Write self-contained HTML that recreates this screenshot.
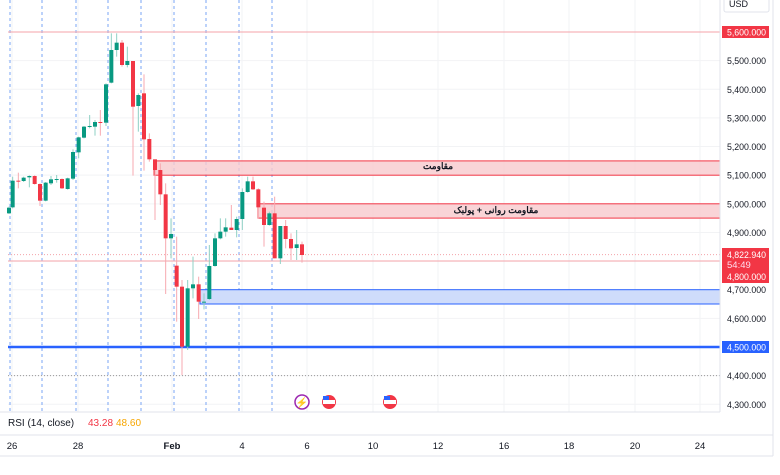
<!DOCTYPE html>
<html><head><meta charset="utf-8"><style>
body{margin:0;background:#fff;width:780px;height:470px;overflow:hidden;font-family:"Liberation Sans",sans-serif}
svg text{font-family:"Liberation Sans","Noto Sans CJK SC",sans-serif}
</style></head><body>
<svg id="s" width="780" height="470" xmlns="http://www.w3.org/2000/svg">
<rect width="780" height="470" fill="#fff"/>
<g id="grid"></g>
<rect x="154" y="160.9" width="566" height="14.3" fill="#f7c9cd" fill-opacity="0.8" stroke="#f23645" stroke-width="1"/>
<rect x="258" y="203.8" width="462" height="14.3" fill="#f7c9cd" fill-opacity="0.8" stroke="#f23645" stroke-width="1"/>
<rect x="200" y="289.7" width="520" height="14.3" fill="#cfdcfb" stroke="#2962ff" stroke-width="1"/>
<text x="438" y="169" font-size="9" font-weight="bold" fill="#131722" text-anchor="middle">مقاومت</text>
<text x="496" y="213" font-size="9" font-weight="bold" fill="#131722" text-anchor="middle">مقاومت روانی + پولبک</text>
<line x1="8" y1="32" x2="720" y2="32" stroke="#f4a3a9" stroke-width="1"/>
<line x1="8" y1="261" x2="720" y2="261" stroke="#f4a3a9" stroke-width="1"/>
<line x1="8" y1="254.6" x2="720" y2="254.6" stroke="#f4a3a9" stroke-width="1" stroke-dasharray="1,2"/>
<line x1="8" y1="375.6" x2="720" y2="375.6" stroke="#999" stroke-width="1" stroke-dasharray="1,2"/>
<line x1="8" y1="347" x2="720" y2="347" stroke="#2962ff" stroke-width="2.5"/>
<g id="c"></g>
<circle cx="302" cy="402" r="7" fill="#fff" stroke="#9c27b0" stroke-width="1.5"/>
<text x="302" y="406" font-size="10" fill="#9c27b0" text-anchor="middle">⚡</text>
<circle cx="329" cy="402" r="7" fill="#f23645"/><rect x="323" y="400" width="12" height="4" fill="#fff"/><rect x="323" y="396" width="6" height="4" fill="#2962ff"/>
<circle cx="390" cy="402" r="7" fill="#f23645"/><rect x="384" y="400" width="12" height="4" fill="#fff"/><rect x="384" y="396" width="6" height="4" fill="#2962ff"/>
<line x1="0" y1="412" x2="720" y2="412" stroke="#e0e3eb"/>
<line x1="0" y1="435" x2="773" y2="435" stroke="#e0e3eb"/>
<line x1="720" y1="0" x2="720" y2="412" stroke="#e0e3eb"/>
<line x1="773" y1="0" x2="773" y2="456" stroke="#e0e3eb"/>
<line x1="0" y1="456" x2="773" y2="456" stroke="#e0e3eb"/>
<text x="8" y="426" font-size="10" fill="#131722">RSI (14, close)</text>
<text x="88" y="426" font-size="10" fill="#f23645">43.28</text>
<text x="116" y="426" font-size="10" fill="#f7a600">48.60</text>
<g id="axis" font-size="9.5" fill="#131722"></g>
<rect x="724" y="-2" width="45" height="14" rx="2" fill="#fff" stroke="#e0e3eb"/>
<text x="729" y="7" font-size="9" fill="#131722">USD</text>
<rect x="722" y="26" width="47" height="12" fill="#f23645"/>
<text x="727" y="35.5" font-size="9.5" fill="#fff" textLength="39" lengthAdjust="spacingAndGlyphs">5,600.000</text>
<rect x="722" y="248" width="47" height="35" fill="#f23645"/>
<text x="727" y="258" font-size="9.5" fill="#fff" textLength="39" lengthAdjust="spacingAndGlyphs">4,822.940</text>
<text x="727" y="268" font-size="9.5" fill="#fde">54:49</text>
<text x="727" y="280" font-size="9.5" fill="#fff" textLength="39" lengthAdjust="spacingAndGlyphs">4,800.000</text>
<rect x="722" y="341" width="47" height="12" fill="#2962ff"/>
<text x="727" y="350.5" font-size="9.5" fill="#fff" textLength="39" lengthAdjust="spacingAndGlyphs">4,500.000</text>
</svg>
<script>
var NS="http://www.w3.org/2000/svg";
function el(p,t,a,txt){var e=document.createElementNS(NS,t);for(var k in a)e.setAttribute(k,a[k]);if(txt)e.textContent=txt;document.getElementById(p).appendChild(e);}
function y(p){return 32+(5600-p)*0.28636;}
for(var p=4300;p<=5600;p+=100){el("grid","line",{x1:8,x2:720,y1:y(p),y2:y(p),stroke:"#f2f3f5"});}
var tl=[[12,"26"],[78,"28"],[172,"Feb"],[242,"4"],[307,"6"],[373,"10"],[438,"12"],[504,"16"],[569,"18"],[635,"20"],[700,"24"]];
tl.forEach(function(t){el("grid","line",{x1:t[0],x2:t[0],y1:0,y2:412,stroke:"#f2f3f5"});el("axis","text",{x:t[0],y:449,"text-anchor":"middle","font-weight":t[1]=="Feb"?"bold":"normal"},t[1]);});
[10,42,76,108,141,174,206,239,272].forEach(function(x){el("grid","line",{x1:x,x2:x,y1:0,y2:412,stroke:"#7aa6f5","stroke-dasharray":"3,3"});});
[5500,5400,5300,5200,5100,5000,4900,4700,4600,4400,4300].forEach(function(p){el("axis","text",{x:727,y:y(p)+3.5,textLength:39,lengthAdjust:"spacingAndGlyphs"},p.toLocaleString("en-US")+".000");});
var d=[[27,563,580,560,582,1],[38,482,562,470,565,1],[55,482,485,458,505,0],[71,473,483,470,486,1],[88,468,472,466,502,1],[104,468,492,466,494,0],[120,492,542,490,558,0],[137,488,542,486,544,1],[153,478,490,468,495,1],[170,477,480,465,488,1],[186,477,505,475,507,0],[203,475,507,473,509,1],[219,396,476,388,480,1],[236,352,397,350,415,1],[252,320,353,318,355,1],[269,318,321,285,325,1],[285,306,320,300,347,1],[301,306,308,270,347,0],[318,193,308,190,318,1],[334,90,188,40,190,1],[350,68,90,40,110,1],[366,68,135,60,140,0],[382,123,135,80,142,1],[399,123,260,123,467,0],[415,225,258,220,335,1],[432,220,358,163,452,0],[448,357,418,340,425,0],[465,418,450,418,600,0],[481,450,523,430,555,0],[497,523,655,490,822,0],[513,642,655,595,715,1],[530,737,800,650,905,0],[546,800,980,780,1065,0],[563,805,980,780,990,1],[579,793,805,710,835,1],[596,793,845,770,897,0],[612,845,848,820,868,1],[628,738,837,675,840,1],[645,655,738,640,740,1],[661,635,655,595,658,1],[677,622,635,595,650,1],[694,623,630,555,630,0],[710,597,630,590,652,1],[727,516,597,505,630,1],[743,484,516,470,518,1],[759,484,508,470,510,0],[775,508,562,505,595,0],[792,563,615,545,680,0],[808,580,615,575,617,1],[824,580,715,530,715,0],[841,618,715,618,732,1],[857,618,657,600,685,0],[873,657,685,640,720,0],[890,673,684,630,720,1],[906,673,705,665,728,0]];
d.forEach(function(c){var x=c[0]/3,col=c[5]?"#089981":"#f23645",wc=c[5]?"#8fd0c4":"#f7a9b0";
el("c","line",{x1:x,x2:x,y1:c[3]/3+20,y2:c[4]/3+20,stroke:wc,"stroke-width":1});
var t=c[1]/3+20,h=Math.max(1,(c[2]-c[1])/3);el("c","rect",{x:x-2,y:t,width:4,height:h,fill:col});});
</script>
</body></html>
